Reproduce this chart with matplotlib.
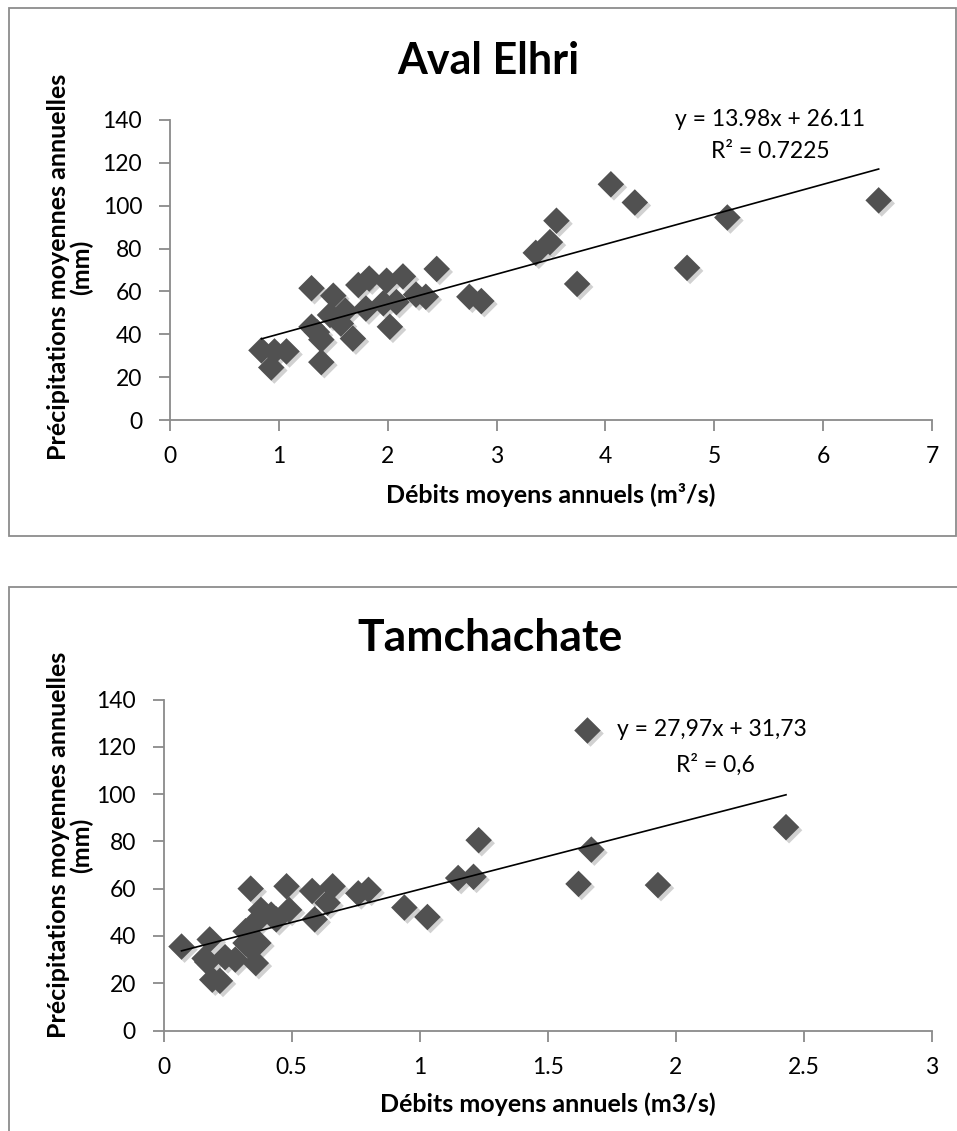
import matplotlib
matplotlib.use("Agg")
import matplotlib.pyplot as plt
import matplotlib.patheffects as pe
from matplotlib.patches import Rectangle
import numpy as np

# ---------------- data ----------------
aval_title = "Aval Elhri"
aval_x = [0.84, 0.93, 0.96, 1.07, 1.30, 1.30, 1.35, 1.39, 1.39, 1.47, 1.50, 1.57,
          1.61, 1.68, 1.73, 1.80, 1.83, 1.96, 1.99, 2.02, 2.08, 2.14, 2.26, 2.35,
          2.45, 2.75, 2.86, 3.36, 3.49, 3.55, 3.74, 4.05, 4.27, 4.75, 5.12, 6.51]
aval_y = [32.5, 24.5, 32, 32, 61.5, 43.5, 41, 37.5, 27, 49, 58, 45,
          51, 38, 63, 52, 66, 54.5, 65, 43.5, 55, 67, 58.5, 57.5,
          70.5, 57.5, 55.5, 78, 83, 93, 63.5, 110, 101.5, 71, 94.5, 102.5]
aval_slope, aval_intercept = 13.98, 26.11
aval_eq = "y = 13.98x + 26.11"
aval_r2 = "R² = 0.7225"
aval_xticks = [0, 1, 2, 3, 4, 5, 6, 7]
aval_xticklabels = ["0", "1", "2", "3", "4", "5", "6", "7"]
aval_xlabel = "Débits moyens annuels (m³/s)"

tam_title = "Tamchachate"
tam_x = [0.07, 0.16, 0.17, 0.18, 0.19, 0.22, 0.24, 0.28, 0.32, 0.32, 0.33, 0.34,
         0.36, 0.37, 0.37, 0.38, 0.42, 0.44, 0.48, 0.49, 0.58, 0.59, 0.64, 0.66,
         0.76, 0.80, 0.94, 1.03, 1.15, 1.21, 1.23, 1.62, 1.67, 1.93, 2.43]
tam_y = [35.5, 30.5, 29, 38.5, 21.5, 21, 31, 30, 42, 37, 36, 60,
         28.5, 37, 47, 51, 49, 47, 61, 51, 59, 47, 54, 61,
         58, 59.5, 52, 48, 64.5, 65, 80.5, 62, 76.5, 61.5, 86]
tam_slope, tam_intercept = 27.97, 31.73
tam_eq = "y = 27,97x + 31,73"
tam_r2 = "R² = 0,6"
tam_xticks = [0, 0.5, 1, 1.5, 2, 2.5, 3]
tam_xticklabels = ["0", "0.5", "1", "1.5", "2", "2.5", "3"]
tam_xlabel = "Débits moyens annuels (m3/s)"

yticks = [0, 20, 40, 60, 80, 100, 120, 140]
ylabel = "Précipitations moyennes annuelles\n(mm)"

# ---------------- layout helpers ----------------
W, H = 957, 1131
fig = plt.figure(figsize=(W / 100, H / 100), dpi=100)
fig.patch.set_facecolor("white")

def fx(px):
    return px / W

def fy(py):
    return 1 - py / H

MAIN_FONT = ["Lato", "DejaVu Sans"]
AX_GRAY = "#8a8a8a"
MARK = "#515151"
shadow = [pe.SimplePatchShadow(offset=(2.2, -2.2), shadow_rgbFace="#9a9a9a", alpha=0.45), pe.Normal()]

# chart borders
fig.patches.append(Rectangle((fx(9), fy(536)), fx(956) - fx(9), fy(8) - fy(536),
                             transform=fig.transFigure, fill=False,
                             edgecolor="#8c8c8c", linewidth=1.3))
fig.patches.append(Rectangle((fx(9), fy(1140)), fx(960) - fx(9), fy(587) - fy(1140),
                             transform=fig.transFigure, fill=False,
                             edgecolor="#8c8c8c", linewidth=1.3, clip_on=False))


def setup_axes(rect, xs, ys, slope, intercept, xmax, xticks, xticklabels):
    ax = fig.add_axes(rect)
    ax.set_xlim(0, xmax)
    ax.set_ylim(0, 140)
    for s in ("top", "right"):
        ax.spines[s].set_visible(False)
    for s in ("left", "bottom"):
        ax.spines[s].set_color(AX_GRAY)
        ax.spines[s].set_linewidth(1.3)
    ax.set_xticks(xticks)
    ax.set_xticklabels(xticklabels)
    ax.set_yticks(yticks)
    ax.tick_params(axis="both", direction="out", length=8, width=1.3, color=AX_GRAY,
                   labelsize=16.5, labelcolor="black")
    ax.tick_params(axis="x", pad=11)
    ax.tick_params(axis="y", pad=12)
    for lab in ax.get_xticklabels() + ax.get_yticklabels():
        lab.set_family(MAIN_FONT)
    ax.patch.set_alpha(0)
    sc = ax.scatter(xs, ys, marker="D", s=13.5 ** 2, color=MARK, edgecolors="none",
                    zorder=3, clip_on=False)
    sc.set_path_effects(shadow)
    xline = np.array([min(xs), max(xs)])
    ax.plot(xline, slope * xline + intercept, color="black", linewidth=1.2, zorder=4)
    return ax, sc

YLAB_KW = dict(ha="center", va="center", rotation=90, fontsize=18, fontweight="bold",
               family=MAIN_FONT, linespacing=1.0, multialignment="center")

# ---------------- top chart ----------------
ax1, sc1 = setup_axes([fx(170), fy(420), fx(932) - fx(170), fy(120) - fy(420)],
                      aval_x, aval_y, aval_slope, aval_intercept, 7,
                      aval_xticks, aval_xticklabels)
fig.text(fx(488), fy(61), aval_title, ha="center", va="center", fontsize=31,
         fontweight="bold", family=MAIN_FONT)
fig.text(fx(770), fy(120), aval_eq, ha="center", va="center", fontsize=16.5, family=MAIN_FONT)
fig.text(fx(770), fy(152), aval_r2, ha="center", va="center", fontsize=16.5, family=MAIN_FONT)
fig.text(fx(551), fy(495), aval_xlabel, ha="center", va="center", fontsize=18,
         fontweight="bold", family=MAIN_FONT)
fig.text(fx(70), fy(267), ylabel, **YLAB_KW)

# ---------------- bottom chart ----------------
ax2, sc2 = setup_axes([fx(163.6), fy(1030.5), fx(932) - fx(163.6), fy(699.5) - fy(1030.5)],
                      tam_x, tam_y, tam_slope, tam_intercept, 3,
                      tam_xticks, tam_xticklabels)
fig.text(fx(490), fy(638), tam_title, ha="center", va="center", fontsize=32,
         fontweight="bold", family=MAIN_FONT)
leg = ax2.legend([sc2], [tam_eq], loc="center left",
                 bbox_to_anchor=(fx(576), fy(730)), bbox_transform=fig.transFigure,
                 frameon=False, borderpad=0, borderaxespad=0, handlelength=1.0,
                 handletextpad=0.8, prop={"family": MAIN_FONT, "size": 16.5},
                 scatterpoints=1)
fig.text(fx(715), fy(765), tam_r2, ha="center", va="center", fontsize=16.5, family=MAIN_FONT)
fig.text(fx(548), fy(1104), tam_xlabel, ha="center", va="center", fontsize=18,
         fontweight="bold", family=MAIN_FONT)
fig.text(fx(70), fy(845), ylabel, **YLAB_KW)

fig.savefig("out.png", dpi=100, facecolor="white")
